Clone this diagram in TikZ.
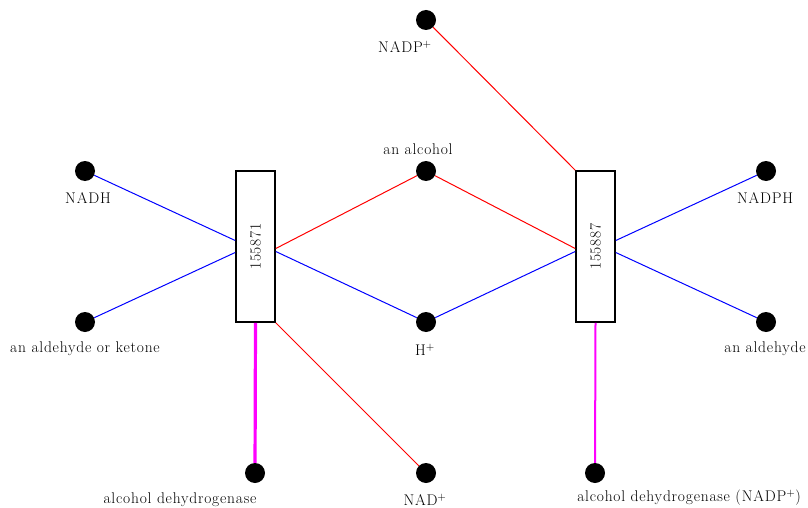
\documentclass[tikz,border=0pt]{standalone}
\usepackage{fontspec}
\setmainfont{Latin Modern Roman}[LetterSpace=5]
\definecolor{mgc}{RGB}{255,0,255}
\begin{document}
\begin{tikzpicture}[x=1pt,y=-1pt,
  dot/.style={circle,fill=black,inner sep=0pt,minimum size=20pt},
  lbl/.style={inner sep=0pt,font=\fontsize{15.5}{17}\selectfont},
  rxn/.style={draw,line width=1.6pt,fill=white,minimum width=39pt,minimum height=151pt,inner sep=0pt,font=\fontsize{15.5}{17}\selectfont},
  bl/.style={draw=blue,line width=1pt},
  rd/.style={draw=red,line width=1pt},
  mg/.style={draw=mgc}
]
\useasboundingbox (0,0) rectangle (808,508);
% boxes
\node[rxn] (r1) at (255.5,246.5) {\rotatebox{90}{155871}};
\node[rxn] (r2) at (595.5,246.5) {\rotatebox{90}{155887}};
% dots
\node[dot] (nadh) at (85,171) {};
\node[dot] (ket) at (85,322) {};
\node[dot] (alc) at (426,171) {};
\node[dot] (hp) at (426,322) {};
\node[dot] (nadp) at (426,20) {};
\node[dot] (nad) at (426,473) {};
\node[dot] (adh) at (255,473) {};
\node[dot] (adhp) at (595,473) {};
\node[dot] (nadph) at (766,171) {};
\node[dot] (ald) at (766,322) {};
% labels
\node[lbl] (lnadh) at (88,198) {NADH};
\node[lbl] (lket) at (85,349) {an aldehyde or ketone};
\node[lbl] (lalc) at (418,149) {an alcohol};
\node[lbl] (lhp) at (425,350) {H$^+$};
\node[lbl] (lnadp) at (405,47) {NADP$^+$};
\node[lbl] (lnad) at (425,500) {NAD$^+$};
\node[lbl] (ladh) at (180,500) {alcohol dehydrogenase};
\node[lbl] (ladhp) at (689,498) {alcohol dehydrogenase (NADP$^+$)};
\node[lbl] (lnadph) at (765,198) {NADPH};
\node[lbl] (lald) at (765,349) {an aldehyde};
% edges
\draw[bl] (nadh) -- ([yshift=6pt]r1.west);
\draw[bl] (ket) -- ([yshift=-6pt]r1.west);
\draw[rd] (alc) -- ([yshift=-2pt]r1.east);
\draw[bl] (hp) -- ([yshift=-5pt]r1.east);
\draw[rd] (nad) -- (r1.south east);
\draw[mg,line width=3.2pt] (adh) -- (r1.south);
\draw[rd] (alc) -- ([yshift=-2pt]r2.west);
\draw[bl] (hp) -- ([yshift=-5pt]r2.west);
\draw[rd] (nadp) -- (r2.north west);
\draw[bl] (nadph) -- ([yshift=6pt]r2.east);
\draw[bl] (ald) -- ([yshift=-6pt]r2.east);
\draw[mg,line width=2pt] (adhp) -- (r2.south);
\end{tikzpicture}
\end{document}
